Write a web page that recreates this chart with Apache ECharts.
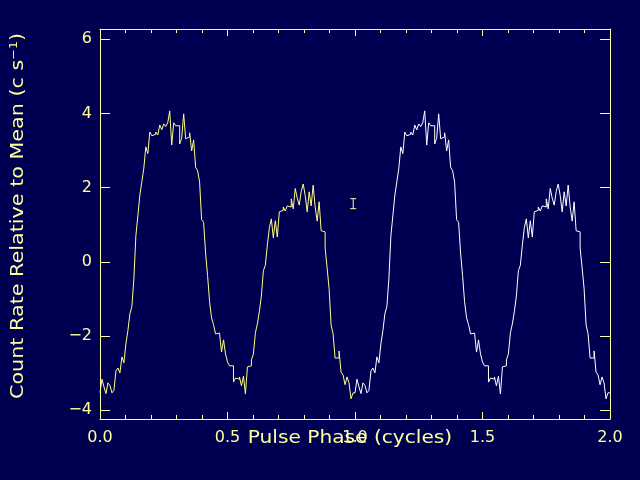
<!DOCTYPE html>
<html>
<head>
<meta charset="utf-8">
<script src="https://cdn.jsdelivr.net/npm/echarts@6/dist/echarts.min.js"></script>
<style>
html,body{margin:0;padding:0;background:#000052;}
#chart{width:640px;height:480px;}
</style>
</head>
<body>
<div id="chart"></div>
<script>
// Folded pulse profile: 128 phase bins per cycle (count rate relative to mean, c/s)
const nBins = 128;
const rate = [
 -3.53,-3.16,-3.37,-3.55,-3.26,-3.33,-3.53,-3.46,-2.94,-2.86,
 -2.99,-2.56,-2.72,-2.21,-1.85,-1.40,-1.20,-0.46, 0.70, 1.24,
  1.80, 2.16, 2.53, 3.10, 2.92, 3.50, 3.40, 3.44, 3.50, 3.42,
  3.69, 3.56, 3.72, 3.65, 3.75, 4.07, 3.15, 3.75, 3.67, 3.67,
  3.18, 3.33, 3.99, 3.32, 3.37, 3.48, 2.99, 3.29, 2.55, 2.46,
  2.15, 1.14, 1.07, 0.24,-0.37,-1.07,-1.51,-1.69,-1.94,-1.92,
 -1.91,-2.43,-2.10,-2.48,-2.70,-2.80,-2.80,-3.24,-3.13,-3.16,
 -3.10,-3.34,-3.08,-3.56,-2.83,-2.80,-2.64,-2.48,-1.91,-1.67,
 -1.33,-0.92,-0.24,-0.09, 0.45, 0.92, 1.16, 0.65, 1.11, 0.67,
  1.35, 1.39, 1.48, 1.37, 1.51, 1.48, 1.70, 1.43, 1.98, 1.72,
  1.53, 1.90, 2.10, 1.79, 1.35, 1.89, 1.51, 2.07, 1.48, 1.10,
  1.62, 0.84, 0.81, 0.38,-0.16,-0.72,-1.70,-1.94,-2.59,-2.59,
 -2.40,-2.97,-3.05,-3.31,-3.10,-3.26,-3.69,-3.53
];
// Representative error bar: [phase, value, half-length]
const errPoint = [[0.993, 1.57, 0.135]];
const xTicks = [0, 0.5, 1, 1.5, 2];
const yTicks = [-4, -2, 0, 2, 4, 6];
const yMin = -4.234, yMax = 6.278;

const AX = '#ffff9c';
const FONT = 'DejaVu Sans';

// histogram outline built from the bin values (bin edges at i/nBins)
function cycleData(offset) {
  const d = [];
  rate.forEach((v, i) => {
    d.push([offset + i / nBins, v]);
    d.push([offset + (i + 1) / nBins, v]);
  });
  return d;
}

const fmt = v => {
  if (Math.abs(v) < 1e-9) v = 0;
  return String(v).replace('-', '\u2212');
};

function xAxisCfg(pos, labels) {
  return {
    type: 'value', position: pos, min: 0, max: 2, interval: 0.5,
    axisLine: {show: true, onZero: false, lineStyle: {color: AX, width: 1}},
    axisTick: {show: true, inside: true, length: 7, lineStyle: {color: AX}},
    minorTick: {show: true, splitNumber: 5, length: 4, lineStyle: {color: AX}},
    splitLine: {show: false}, minorSplitLine: {show: false},
    axisLabel: {show: labels, color: AX, fontFamily: FONT, fontSize: 16, margin: 11,
      formatter: v => v.toFixed(1)}
  };
}
function yAxisCfg(pos, labels) {
  return {
    type: 'value', position: pos, min: yMin, max: yMax,
    axisLine: {show: true, onZero: false, lineStyle: {color: AX, width: 1}},
    axisTick: {show: true, inside: true, length: 10, customValues: yTicks, lineStyle: {color: AX}},
    splitLine: {show: false},
    axisLabel: {show: labels, customValues: yTicks, color: AX, fontFamily: FONT, fontSize: 16, margin: 8,
      formatter: fmt}
  };
}

const chart = echarts.init(document.getElementById('chart'), null, {renderer: 'canvas'});
chart.setOption({
  backgroundColor: '#000052',
  animation: false,
  grid: {left: 100, right: 30, top: 29, bottom: 61, containLabel: false},
  xAxis: [xAxisCfg('bottom', true), xAxisCfg('top', false)],
  yAxis: [yAxisCfg('left', true), yAxisCfg('right', false)],
  graphic: [
    {type: 'text', x: 350, y: 438, scaleX: 1.12,
     style: {text: 'Pulse Phase (cycles)', fill: AX, font: '18px "DejaVu Sans"', align: 'center', verticalAlign: 'middle'}},
    {type: 'text', x: 18, y: 216, rotation: Math.PI / 2, scaleX: 1.15,
     style: {text: '{a|Count Rate Relative to Mean (c s}{s|\u22121}{a|)}', fill: AX,
       align: 'center', verticalAlign: 'middle',
       rich: {
         a: {fontFamily: FONT, fontSize: 18, fill: AX, color: AX},
         s: {fontFamily: FONT, fontSize: 11, fill: AX, color: AX, verticalAlign: 'top', padding: [0, 0, 8, 0]}
       }}}
  ],
  series: [
    {type: 'line', data: cycleData(0), showSymbol: false, symbol: 'none',
     lineStyle: {color: '#ffff80', width: 1}, xAxisIndex: 0, yAxisIndex: 0},
    {type: 'line', data: cycleData(1), showSymbol: false, symbol: 'none',
     lineStyle: {color: '#ffffff', width: 1}, xAxisIndex: 0, yAxisIndex: 0},
    {type: 'custom', data: errPoint, xAxisIndex: 0, yAxisIndex: 0,
     encode: {x: 0, y: 1},
     renderItem: function (params, api) {
       const x = api.value(0), y = api.value(1), e = api.value(2);
       const t = api.coord([x, y + e]);
       const b = api.coord([x, y - e]);
       const st = {stroke: AX, lineWidth: 1};
       return {type: 'group', children: [
         {type: 'line', shape: {x1: t[0], y1: t[1], x2: b[0], y2: b[1]}, style: st},
         {type: 'line', shape: {x1: t[0] - 3, y1: t[1], x2: t[0] + 3, y2: t[1]}, style: st},
         {type: 'line', shape: {x1: b[0] - 3, y1: b[1], x2: b[0] + 3, y2: b[1]}, style: st}
       ]};
     }}
  ]
});
</script>
</body>
</html>
